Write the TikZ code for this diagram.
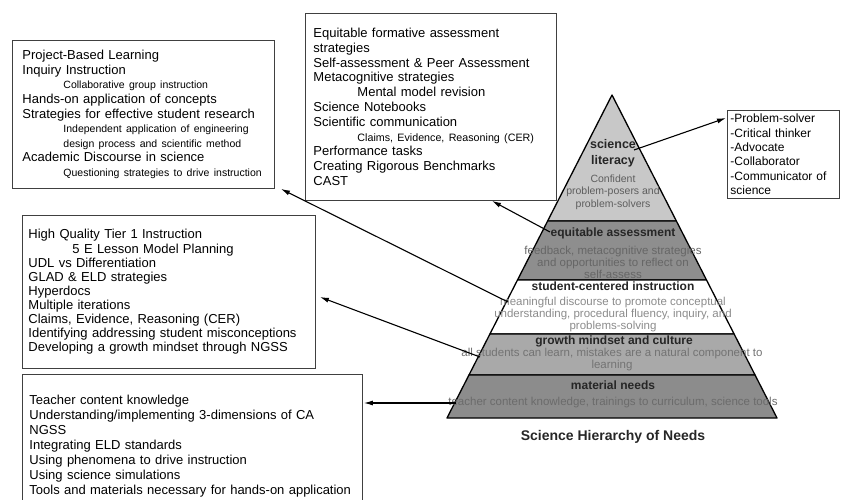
\documentclass[tikz,border=0pt]{standalone}
\usepackage{fontspec}
\setmainfont{Liberation Sans}
\usetikzlibrary{calc,arrows.meta,positioning}
\definecolor{litgray}{HTML}{C8C8C8}
\definecolor{assessgray}{HTML}{8E8E8E}
\definecolor{mindgray}{HTML}{A9A9A9}
\definecolor{needgray}{HTML}{8C8C8C}
\definecolor{notegray}{HTML}{5E5E5E}
\tikzstyle{itembox}=[draw=black!75, line width=0.9pt, anchor=north west,
    align=left, inner ysep=0pt]
\tikzstyle{band}=[draw=black, line width=1.3pt, line join=round]
\tikzstyle{hd}=[font=\bfseries\fontsize{12}{15}\selectfont, text=black!85,
    align=center, inner sep=0pt]
\tikzstyle{nt}=[font=\fontsize{11.5}{12}\selectfont, text=notegray,
    align=center, inner sep=0pt]
\tikzstyle{arr}=[-{Latex[length=9pt,width=5pt]}, line width=1.1pt]
\newcommand{\sub}[3]{\hspace*{#1}{\fontsize{#2}{10}\selectfont #3}}
\def\ta{0.390}
\def\tb{0.573}
\def\tc{0.740}
\def\td{0.867}

\begin{document}
\begin{tikzpicture}[x=1pt, y=-1pt]
    \useasboundingbox (0,0) rectangle (843,500);
    \clip (0,0) rectangle (843,500);

    \node (b1) [itembox, text width=242pt, inner xsep=10pt, minimum height=148pt,
        font=\fontsize{13}{14.6}\selectfont] at (12,40)
        {Project-Based Learning\\
         Inquiry Instruction\\
         \sub{41pt}{10.5}{Collaborative group instruction}\\
         Hands-on application of concepts\\
         Strategies for effective student research\\
         \sub{41pt}{10.5}{Independent application of engineering}\\
         \sub{41pt}{10.5}{design process and scientific method}\\
         Academic Discourse in science\\
         \sub{41pt}{10.5}{Questioning strategies to drive instruction}};
    \node (b2) [itembox, text width=235pt, inner xsep=8pt, minimum height=187pt,
        font=\fontsize{13}{14.8}\selectfont] at (305,13)
        {Equitable formative assessment\\
         strategies\\
         Self-assessment \& Peer Assessment\\
         Metacognitive strategies\\
         \sub{44pt}{13}{Mental model revision}\\
         Science Notebooks\\
         Scientific communication\\
         \sub{44pt}{10.7}{Claims, Evidence, Reasoning (CER)}\\
         Performance tasks\\
         Creating Rigorous Benchmarks\\
         CAST};
    \node (b3) [itembox, text width=281pt, inner xsep=6pt, minimum height=153pt,
        font=\fontsize{13}{14.1}\selectfont] at (22,215)
        {High Quality Tier 1 Instruction\\
         \sub{44pt}{13}{5 E Lesson Model Planning}\\
         UDL vs Differentiation\\
         GLAD \& ELD strategies\\
         Hyperdocs\\
         Multiple iterations\\
         Claims, Evidence, Reasoning (CER)\\
         Identifying addressing student misconceptions\\
         Developing a growth mindset through NGSS};
    \node (b4) [itembox, text width=326pt, inner xsep=7pt, minimum height=143pt,
        font=\fontsize{13}{15}\selectfont] at (22,374)
        {Teacher content knowledge\\
         Understanding/implementing 3-dimensions of CA\\
         NGSS\\
         Integrating ELD standards\\
         Using phenomena to drive instruction\\
         Using science simulations\\
         Tools and materials necessary for hands-on application};
    \node (b5) [itembox, text width=106pt, inner xsep=3pt, minimum height=88pt,
        font=\fontsize{12}{14.3}\selectfont] at (727,110)
        {-Problem-solver\\
         -Critical thinker\\
         -Advocate\\
         -Collaborator\\
         -Communicator of\\
         science};

    \coordinate (apex) at (612,95);
    \coordinate (bl) at (447,418);
    \coordinate (br) at (777,418);
    \filldraw[band, fill=litgray] (apex) -- ($(apex)!\ta!(br)$)
        -- ($(apex)!\ta!(bl)$) -- cycle;
    \filldraw[band, fill=assessgray] ($(apex)!\ta!(bl)$) -- ($(apex)!\ta!(br)$)
        -- ($(apex)!\tb!(br)$) -- ($(apex)!\tb!(bl)$) -- cycle;
    \filldraw[band, fill=white] ($(apex)!\tb!(bl)$) -- ($(apex)!\tb!(br)$)
        -- ($(apex)!\tc!(br)$) -- ($(apex)!\tc!(bl)$) -- cycle;
    \filldraw[band, fill=mindgray] ($(apex)!\tc!(bl)$) -- ($(apex)!\tc!(br)$)
        -- ($(apex)!\td!(br)$) -- ($(apex)!\td!(bl)$) -- cycle;
    \filldraw[band, fill=needgray] ($(apex)!\td!(bl)$) -- ($(apex)!\td!(br)$)
        -- (br) -- (bl) -- cycle;

    \node (lit) [hd, font=\bfseries\fontsize{12.5}{16}\selectfont] at (613,153)
        {science\\literacy};
    \node (litnote) [nt, font=\fontsize{10.5}{12.5}\selectfont] at (613,192)
        {Confident\\problem-posers and\\problem-solvers};
    \node (assess) [hd] at (613,233) {equitable assessment};
    \node (assessnote) [nt, text=black!60] at (613,262)
        {feedback, metacognitive strategies\\and opportunities to reflect on\\self-assess};
    \node (student) [hd] at (613,286) {student-centered instruction};
    \node (studentnote) [nt, text=black!45] at (613,315)
        {meaningful discourse to promote conceptual\\understanding, procedural fluency, inquiry, and\\problems-solving};
    \node (mind) [hd] at (614,341) {growth mindset and culture};
    \node (mindnote) [nt, text=black!55] at (612,360)
        {all students can learn, mistakes are a natural component to\\learning};
    \node (need) [hd] at (613,385) {material needs};
    \node (neednote) [nt, text=black!58] at (613,403)
        {teacher content knowledge, trainings to curriculum, science tools};
    \node (title) [hd, font=\bfseries\fontsize{14}{16}\selectfont] at (613,437)
        {Science Hierarchy of Needs};

    \coordinate (litpt) at (634,150);
    \coordinate (assesspt) at (550,232);
    \coordinate (studentpt) at (508,302);
    \coordinate (mindpt) at (480,357);
    \coordinate (needpt) at (456,403);
    \draw[arr] (litpt) -- ($(b5.north west)+(-1,8)$);
    \draw[arr] (assesspt) -- ($(b2.south west)+(187,0)$);
    \draw[arr] (studentpt) -- ($(b1.south east)+(6,0)$);
    \draw[arr] (mindpt) -- ($(b3.north east)+(4,82)$);
    \draw[arr] (needpt) -- ($(b4.north east)+(1,29)$);
\end{tikzpicture}
\end{document}
